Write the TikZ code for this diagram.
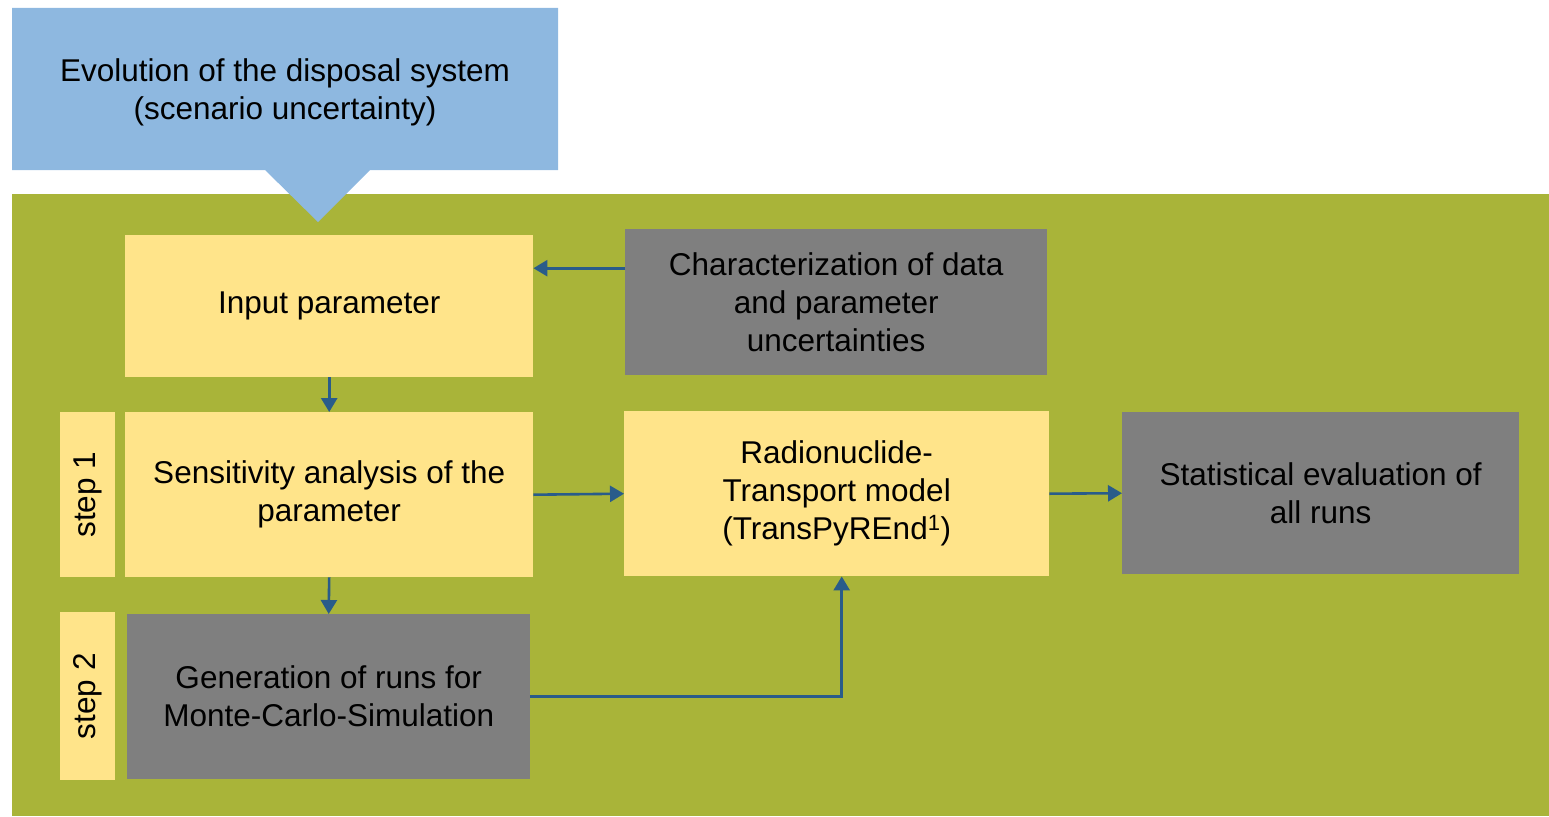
\documentclass[tikz,border=0pt]{standalone}
\usepackage{fontspec}
\setmainfont{Liberation Sans}
\usetikzlibrary{arrows.meta}
\definecolor{bgGreen}{RGB}{169,180,57}
\definecolor{boxYellow}{RGB}{255,228,138}
\definecolor{boxGray}{RGB}{127,127,127}
\definecolor{calloutBlue}{RGB}{142,184,224}
\definecolor{arrowBlue}{RGB}{41,92,138}
\tikzset{
  txt/.style={inner sep=0pt, align=center, font=\fontsize{31.5}{38}\selectfont},
  ybox/.style={txt, fill=boxYellow, anchor=north west},
  gbox/.style={txt, fill=boxGray, anchor=north west},
  stepbox/.style={txt, fill=boxYellow, anchor=north west, minimum width=55pt},
  conn/.style={draw=arrowBlue, line width=2.6pt, -{Triangle[length=14pt,width=16pt]}}
}
\begin{document}
\begin{tikzpicture}[x=1pt,y=-1pt]
  \useasboundingbox (0,0) rectangle (1549,816);
  % background and callout
  \fill[bgGreen] (12,194) rectangle (1549,816);
  \fill[calloutBlue] (12,8) -- (558,8) -- (558,170) -- (370,170) -- (318,222)
    -- (265,170) -- (12,170) -- cycle;
  \node[txt] (evol) at (285,92) {Evolution of the disposal system\\(scenario uncertainty)};

  % boxes
  \node[ybox, minimum width=408pt, minimum height=142pt] (input) at (125,235) {Input parameter};
  \node[gbox, minimum width=422pt, minimum height=146pt] (charact) at (625,229)
    {Characterization of data\\and parameter\\uncertainties};
  \node[stepbox, minimum height=165pt] (step1) at (60,412) {\rotatebox{90}{step 1}};
  \node[ybox, minimum width=408pt, minimum height=165pt] (sens) at (125,412)
    {Sensitivity analysis of the\\parameter};
  \node[ybox, minimum width=425pt, minimum height=165pt] (radio) at (624,411)
    {Radionuclide-\\Transport model\\(TransPyREnd\textsuperscript{1})};
  \node[gbox, minimum width=397pt, minimum height=162pt] (stat) at (1122,412)
    {Statistical evaluation of\\all runs};
  \node[stepbox, minimum height=168pt] (step2) at (60,612) {\rotatebox{90}{step 2}};
  \node[gbox, minimum width=403pt, minimum height=165pt] (gen) at (127,614)
    {Generation of runs for\\Monte-Carlo-Simulation};

  % connectors
  \draw[conn] ([yshift=34pt]charact.west) -- ([yshift=34pt]charact.west -| input.east);
  \draw[conn] (input.south) -- (sens.north);
  \draw[conn] (sens.east) -- (radio.west);
  \draw[conn] (radio.east) -- (stat.west);
  \draw[conn] (sens.south) -- (gen.north);
  \draw[conn] (gen.east) -| ([xshift=5pt]radio.south);
\end{tikzpicture}
\end{document}
